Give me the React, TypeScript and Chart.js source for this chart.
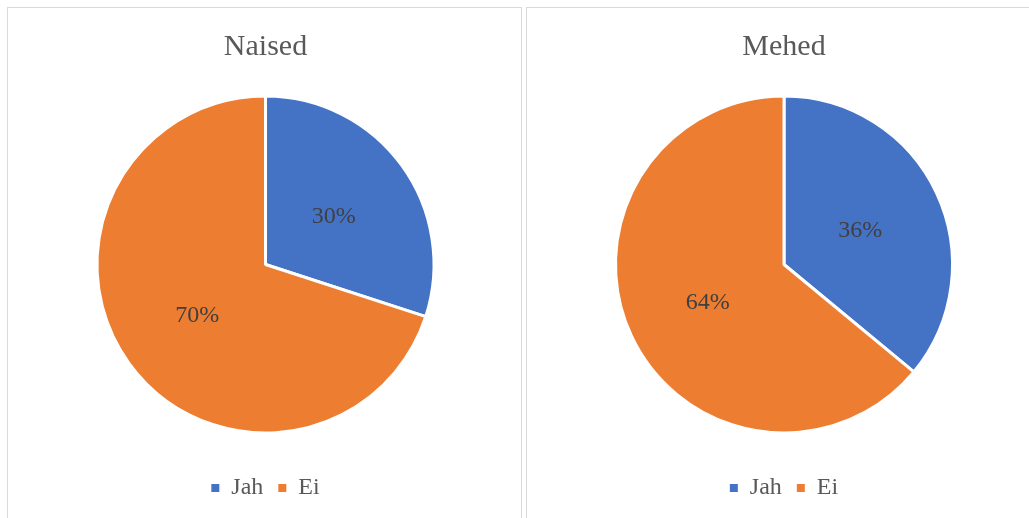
import React, { useEffect, useRef, useState } from "react";
import { Chart, registerables } from "chart.js";

Chart.register(...registerables);

const categories = ["Jah", "Ei"];
const naisedValues = [30, 70];
const mehedValues = [36, 64];
const chartTitles = ["Naised", "Mehed"];
const sliceColors = ["#4472C4", "#ED7D31"];

const SERIF = "'Liberation Serif', 'Times New Roman', serif";

const dataLabelPlugin = {
  id: "pieDataLabels",
  afterDatasetsDraw(chart: any) {
    const ctx = chart.ctx;
    const meta = chart.getDatasetMeta(0);
    const values: number[] = chart.data.datasets[0].data;
    const total = values.reduce((a: number, b: number) => a + b, 0);
    ctx.save();
    ctx.font = "24px " + SERIF;
    ctx.fillStyle = "#404040";
    ctx.textAlign = "center";
    ctx.textBaseline = "middle";
    meta.data.forEach((arc: any, i: number) => {
      const p = arc.tooltipPosition(false);
      const pct = Math.round((values[i] / total) * 100);
      ctx.fillText(pct + "%", p.x, p.y + 2);
    });
    ctx.restore();
  },
};

function PieBox(props: any) {
  const { title, values, left, width, canvasWidth, padLeft } = props;
  const ref = useRef<HTMLCanvasElement | null>(null);
  const [err, setErr] = useState("");
  useEffect(() => {
    if (!ref.current) return;
    let chart: any = null;
    try {
      const baseGen = (Chart as any).overrides.pie.plugins.legend.labels.generateLabels;
      chart = new Chart(ref.current, {
        type: "pie",
        data: {
          labels: categories,
          datasets: [
            {
              data: values,
              backgroundColor: sliceColors,
              borderColor: "#ffffff",
              borderWidth: 3,
              radius: 168.5,
            },
          ],
        },
        options: {
          animation: false,
          responsive: false,
          maintainAspectRatio: false,
          layout: { padding: { left: padLeft, right: 0, top: 0, bottom: 0 } },
          plugins: {
            title: {
              display: true,
              text: title,
              color: "#595959",
              font: { family: SERIF, size: 30, weight: "normal", lineHeight: 1.2 },
              padding: { top: 21, bottom: 3 },
            },
            legend: {
              display: true,
              position: "bottom",
              labels: {
                boxWidth: 8,
                boxHeight: 8,
                padding: 15,
                color: "#595959",
                font: { family: SERIF, size: 24 },
                generateLabels: (c: any) =>
                  baseGen(c).map((l: any) => ({ ...l, lineWidth: 0, strokeStyle: l.fillStyle })),
              },
            },
            tooltip: { enabled: false },
          },
        },
        plugins: [dataLabelPlugin],
      } as any);
    } catch (e: any) {
      setErr(String(e && e.stack ? e.stack : e));
    }
    return () => {
      if (chart) chart.destroy();
    };
  }, []);
  return (
    <div
      style={{
        position: "absolute",
        left: left,
        top: 7,
        width: width,
        height: 540,
        boxSizing: "border-box",
        border: "1px solid #d9d9d9",
        background: "#fff",
      }}
    >
      <canvas
        ref={ref}
        width={canvasWidth}
        height={502}
        style={{ display: "block", width: canvasWidth + "px", height: "502px" }}
      />
      {err ? <pre style={{ position: "absolute", top: 0, left: 0, fontSize: 10, whiteSpace: "pre-wrap" }}>{err}</pre> : null}
    </div>
  );
}

export default function App() {
  return (
    <div
      style={{
        position: "fixed",
        left: 0,
        top: 0,
        width: 1029,
        height: 518,
        overflow: "hidden",
        background: "#fff",
      }}
    >
      <PieBox title={chartTitles[0]} values={naisedValues} left={7} width={515} canvasWidth={513} padLeft={2} />
      <PieBox title={chartTitles[1]} values={mehedValues} left={526} width={540} canvasWidth={514} padLeft={0} />
    </div>
  );
}
